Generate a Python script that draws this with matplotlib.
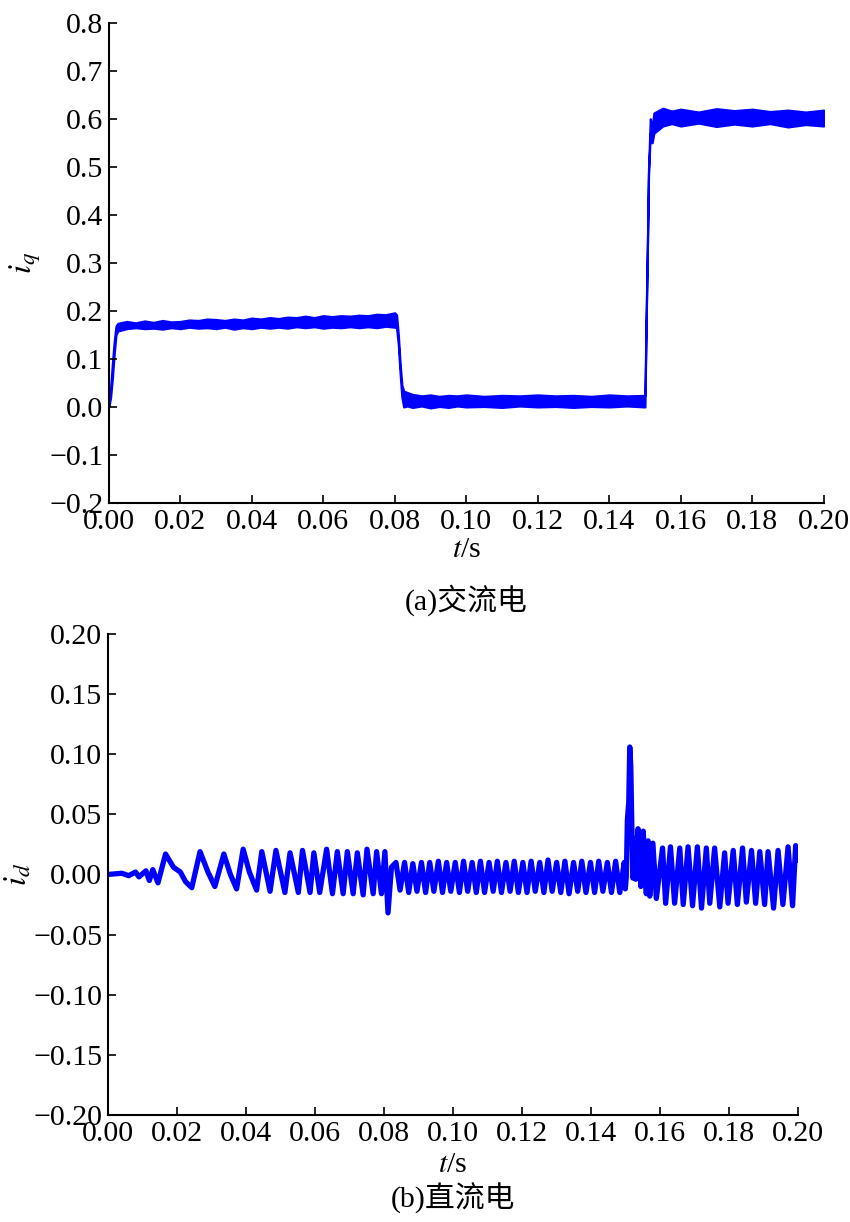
import numpy as np
import matplotlib
matplotlib.use('Agg')
import matplotlib.pyplot as plt
from matplotlib.ticker import FuncFormatter

plt.rcParams['font.family'] = ['Liberation Serif', 'Noto Sans CJK SC']
plt.rcParams['mathtext.fontset'] = 'stix'

# (a) i_q envelope: time, upper edge, lower edge
iq_t = [0.0000, 0.0005, 0.0010, 0.0015, 0.0020, 0.0025, 0.0050, 0.0075, 0.0100,
        0.0125, 0.0150, 0.0175, 0.0200, 0.0225, 0.0250, 0.0275, 0.0300, 0.0325,
        0.0350, 0.0375, 0.0400, 0.0425, 0.0450, 0.0475, 0.0500, 0.0525, 0.0550,
        0.0575, 0.0600, 0.0625, 0.0650, 0.0675, 0.0700, 0.0725, 0.0750, 0.0775,
        0.0800, 0.0805, 0.0810, 0.0815, 0.0820, 0.0825, 0.0835, 0.0850, 0.0875,
        0.0900, 0.0925, 0.0950, 0.0975, 0.1000, 0.1050, 0.1100, 0.1150, 0.1200,
        0.1250, 0.1300, 0.1350, 0.1400, 0.1450, 0.1500, 0.1503, 0.1507, 0.1510,
        0.1515, 0.1520, 0.1525, 0.1550, 0.1575, 0.1600, 0.1650, 0.1700, 0.1750,
        0.1800, 0.1850, 0.1900, 0.1950, 0.2000]
iq_hi = [0.005, 0.040, 0.090, 0.135, 0.168, 0.174, 0.178, 0.175, 0.179,
         0.176, 0.180, 0.177, 0.178, 0.181, 0.180, 0.183, 0.182, 0.180,
         0.183, 0.181, 0.185, 0.183, 0.186, 0.184, 0.187, 0.186, 0.189,
         0.186, 0.190, 0.188, 0.190, 0.189, 0.191, 0.190, 0.193, 0.192,
         0.196, 0.192, 0.150, 0.090, 0.045, 0.033, 0.030, 0.026, 0.023,
         0.025, 0.022, 0.024, 0.023, 0.025, 0.022, 0.024, 0.023, 0.025,
         0.023, 0.024, 0.022, 0.025, 0.023, 0.024, 0.170, 0.345, 0.495,
         0.600, 0.580, 0.612, 0.622, 0.616, 0.620, 0.614, 0.621, 0.617,
         0.620, 0.615, 0.618, 0.614, 0.618]
iq_lo = [0.000, 0.020, 0.060, 0.110, 0.150, 0.158, 0.163, 0.165, 0.163,
         0.164, 0.162, 0.165, 0.163, 0.166, 0.164, 0.165, 0.163, 0.166,
         0.162, 0.165, 0.163, 0.166, 0.164, 0.166, 0.164, 0.167, 0.165,
         0.167, 0.164, 0.166, 0.165, 0.167, 0.165, 0.167, 0.165, 0.168,
         0.166, 0.165, 0.130, 0.070, 0.020, 0.000, 0.002, -0.001, 0.002,
         -0.002, 0.001, -0.001, 0.002, 0.000, 0.001, -0.001, 0.002, 0.000,
         0.001, -0.001, 0.001, 0.000, 0.002, 0.000, 0.160, 0.335, 0.485,
         0.570, 0.550, 0.570, 0.585, 0.590, 0.585, 0.591, 0.584, 0.589,
         0.585, 0.590, 0.583, 0.588, 0.585]

# (b) i_d oscillation extremes
id_t_a = [0.0000, 0.0040, 0.0060, 0.0080, 0.0090, 0.0110, 0.0120, 0.0130, 0.0145,
          0.0167, 0.0190, 0.0210, 0.0225, 0.0243, 0.0267, 0.0290, 0.0310, 0.0336,
          0.0355, 0.0373, 0.0392, 0.0410, 0.0431, 0.0446, 0.0470, 0.0487, 0.0513,
          0.0528, 0.0552, 0.0564, 0.0586, 0.0597, 0.0614, 0.0634, 0.0651, 0.0665,
          0.0682, 0.0694, 0.0711, 0.0723, 0.0740, 0.0751, 0.0769, 0.0779, 0.0793,
          0.0803, 0.0812, 0.0822]
id_v_a = [0.000, 0.001, -0.001, 0.002, -0.002, 0.003, -0.005, 0.004, -0.007,
          0.017, 0.006, 0.002, -0.006, -0.011, 0.019, 0.002, -0.010, 0.017,
          0.000, -0.012, 0.021, 0.002, -0.013, 0.019, -0.014, 0.020, -0.015,
          0.018, -0.015, 0.020, -0.015, 0.018, -0.015, 0.021, -0.016, 0.019,
          -0.016, 0.019, -0.016, 0.018, -0.017, 0.021, -0.016, 0.019, -0.016,
          0.019, -0.032, 0.006]
id_t_b = [0.0835, 0.0847, 0.0860, 0.0872, 0.0884, 0.0896, 0.0909, 0.0921, 0.0933,
          0.0945, 0.0958, 0.0970, 0.0982, 0.0994, 0.1007, 0.1019, 0.1031, 0.1043,
          0.1056, 0.1068, 0.1080, 0.1092, 0.1105, 0.1117, 0.1129, 0.1141, 0.1154,
          0.1166, 0.1178, 0.1190, 0.1203, 0.1215, 0.1227, 0.1239, 0.1252, 0.1264,
          0.1276, 0.1288, 0.1301, 0.1313, 0.1325, 0.1337, 0.1350, 0.1362, 0.1374,
          0.1386, 0.1399, 0.1411, 0.1423, 0.1435, 0.1448, 0.1460, 0.1472, 0.1484,
          0.1497, 0.1500]
id_v_b = [0.010, -0.013, 0.010, -0.015, 0.009, -0.014, 0.010, -0.015, 0.010,
          -0.014, 0.011, -0.015, 0.010, -0.014, 0.010, -0.015, 0.011, -0.014,
          0.010, -0.015, 0.011, -0.015, 0.010, -0.014, 0.011, -0.015, 0.010,
          -0.014, 0.011, -0.015, 0.010, -0.015, 0.011, -0.014, 0.010, -0.015,
          0.012, -0.014, 0.010, -0.015, 0.011, -0.016, 0.010, -0.014, 0.011,
          -0.015, 0.010, -0.015, 0.011, -0.014, 0.010, -0.015, 0.011, -0.015,
          0.010, -0.012]
id_t_c = [0.1503, 0.1506, 0.1510, 0.1513, 0.1516, 0.1519, 0.1522, 0.1526, 0.1530,
          0.1537, 0.1545, 0.1552, 0.1561, 0.1566, 0.1571, 0.1580, 0.1590, 0.1608,
          0.1617, 0.1631, 0.1643, 0.1658, 0.1668, 0.1682, 0.1695, 0.1709, 0.1721,
          0.1735, 0.1745, 0.1759, 0.1774, 0.1788, 0.1798, 0.1813, 0.1825, 0.1840,
          0.1851, 0.1866, 0.1878, 0.1890, 0.1904, 0.1914, 0.1930, 0.1943, 0.1957,
          0.1972, 0.1985, 0.1994, 0.2000]
id_v_c = [-0.002, 0.045, 0.060, 0.106, 0.090, 0.040, -0.003, 0.030, -0.004,
          0.038, -0.010, 0.036, -0.016, 0.028, -0.018, 0.026, -0.020, 0.022,
          -0.024, 0.023, -0.024, 0.022, -0.025, 0.023, -0.026, 0.023, -0.028,
          0.022, -0.024, 0.022, -0.027, 0.018, -0.024, 0.020, -0.025, 0.022,
          -0.023, 0.020, -0.024, 0.019, -0.025, 0.019, -0.028, 0.020, -0.025,
          0.023, -0.026, 0.024, 0.012]

id_t = id_t_a + id_t_b + id_t_c
id_v = id_v_a + id_v_b + id_v_c

line_color = '#0000ff'
fs = 21.5


def fmt(decimals):
    def f(v, pos):
        s = f'{round(v, decimals) + 0.0:.{decimals}f}'
        return s.replace('-', '\u2212')
    return FuncFormatter(f)


fig = plt.figure(figsize=(8.5, 12.22), dpi=100)
ax1 = fig.add_axes([0.128, 0.5884, 0.841, 0.393])
ax2 = fig.add_axes([0.127, 0.0876, 0.8115, 0.3936])


def style(ax):
    ax.spines['top'].set_visible(False)
    ax.spines['right'].set_visible(False)
    ax.spines['left'].set_linewidth(1.5)
    ax.spines['bottom'].set_linewidth(1.5)
    ax.tick_params(direction='in', length=6, width=1.2, labelsize=fs, pad=4)
    ax.set_xlim(0, 0.2)
    ax.set_xticks(np.arange(0, 0.2001, 0.02))
    ax.xaxis.set_major_formatter(fmt(2))


# (a)
style(ax1)
ax1.fill_between(iq_t, iq_lo, iq_hi, color=line_color, lw=1.6, edgecolor=line_color)
ax1.set_ylim(-0.2, 0.8)
ax1.set_yticks(np.arange(-0.2, 0.801, 0.1))
ax1.yaxis.set_major_formatter(fmt(1))
ax1.set_ylabel('$i_q$', fontsize=fs + 2)
ax1.yaxis.set_label_coords(-0.092, 0.5)
ax1.text(0.5, -0.098, '$t$/s', transform=ax1.transAxes, ha='center', va='center', fontsize=fs)
ax1.text(0.5, -0.202, '(a)交流电', transform=ax1.transAxes, ha='center', va='center', fontsize=fs)

# (b)
style(ax2)
ax2.plot(id_t, id_v, color=line_color, lw=3.8, solid_joinstyle='round')
ax2.set_ylim(-0.2, 0.2)
ax2.set_yticks(np.arange(-0.2, 0.2001, 0.05))
ax2.yaxis.set_major_formatter(fmt(2))
ax2.set_ylabel('$i_d$', fontsize=fs + 2)
ax2.yaxis.set_label_coords(-0.108, 0.5)
ax2.text(0.5, -0.104, '$t$/s', transform=ax2.transAxes, ha='center', va='center', fontsize=fs)
ax2.text(0.5, -0.173, '(b)直流电', transform=ax2.transAxes, ha='center', va='center', fontsize=fs)

fig.savefig('out.png', dpi=100)
